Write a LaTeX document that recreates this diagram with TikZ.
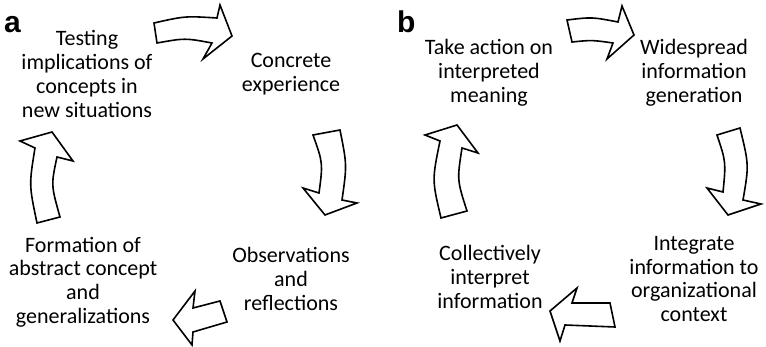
\documentclass[tikz,border=0pt]{standalone}
\usepackage{fontspec}
\setmainfont{Carlito}
\newfontfamily\panelfont{Liberation Sans}

\begin{document}
\begin{tikzpicture}[x=1pt,y=-1pt,
    stage node/.style={align=center,inner sep=0pt,font=\fontsize{22}{23.8}\selectfont},
    panel node/.style={inner sep=0pt,anchor=base west,font=\panelfont\bfseries\fontsize{30}{30}\selectfont},
    big arrow/.style={draw=black,line width=1.6pt,fill=white,line join=miter}]
    \useasboundingbox (0,0) rectangle (766,347);

    % panel a
    \node[panel node] at (4,33) (pa) {a};
    \node[stage node] at (87,74) (test) {Testing\\implications of\\concepts in\\new situations};
    \node[stage node] at (291,74) (concrete) {Concrete\\experience};
    \node[stage node] at (291,279) (observ) {Observations\\and\\reflections};
    \node[stage node] at (83,282) (formation) {Formation of\\abstract concept\\and\\generalizations};

    \draw[big arrow] (154,23) .. controls (185,16) .. (217,18) -- (220,5) -- (232,36) -- (203,59) -- (212,43) .. controls (185,38) .. (157,43) -- cycle;
    \draw[big arrow] (313,135) -- (340,130) .. controls (347,165) .. (342,200) -- (357,203) -- (325,215) -- (303,188) -- (319,193) .. controls (323,163) .. (313,135) -- cycle;
    \draw[big arrow] (220,301) -- (227,322) -- (193,332) -- (192,345) -- (173,320) -- (195,291) -- (193,308) -- cycle;
    \draw[big arrow] (37,223) -- (60,217) .. controls (51,185) .. (57,157) -- (73,161) -- (52,132) -- (20,141) -- (35,148) .. controls (29,185) .. (37,223) -- cycle;

    % panel b
    \node[panel node] at (397,33) (pb) {b};
    \node[stage node] at (489,73) (take) {Take action on\\interpreted\\meaning};
    \node[stage node] at (694,73) (widespread) {Widespread\\information\\generation};
    \node[stage node] at (694,279) (integrate) {Integrate\\information to\\organizational\\context};
    \node[stage node] at (490,277) (collect) {Collectively\\interpret\\information};

    \draw[big arrow] (567,20) .. controls (592,17) .. (618,22) -- (622,6) -- (634,35) -- (607,59) -- (613,43) .. controls (592,40) .. (572,42) -- cycle;
    \draw[big arrow] (717,135) -- (740,128) .. controls (749,165) .. (743,200) -- (761,204) -- (728,215) -- (707,188) -- (723,192) .. controls (726,162) .. (717,135) -- cycle;
    \draw[big arrow] (610,303) -- (615,327) -- (565,325) -- (560,341) -- (550,311) -- (577,288) -- (572,303) -- cycle;
    \draw[big arrow] (441,218) -- (467,211) .. controls (457,180) .. (462,148) -- (478,153) -- (457,125) -- (425,135) -- (440,141) .. controls (432,180) .. (441,218) -- cycle;
\end{tikzpicture}
\end{document}
